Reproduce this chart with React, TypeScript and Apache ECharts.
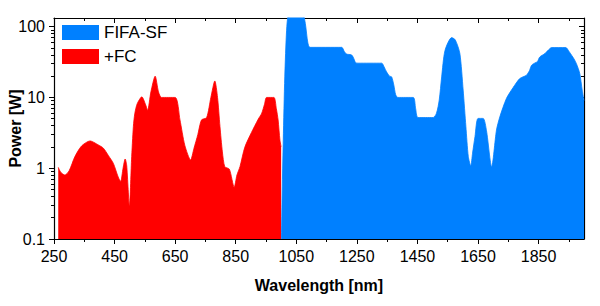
import React, { useEffect, useRef } from "react";
import * as echarts from "echarts";

// Data
const fcWavelength = [264, 272, 286, 300, 319, 341, 369, 395, 413, 430, 446, 462, 470, 478, 485, 490, 499, 506, 512, 517, 525, 540, 552, 559, 570, 584, 595, 605, 650, 666, 682, 701, 712, 725, 737, 754, 768, 781, 790, 798, 806, 814, 829, 845, 854, 864, 880, 902, 924, 936, 945, 952, 976, 984, 990, 996, 1000];
const fcPower = [1.03, 0.88, 0.8, 0.92, 1.46, 2.06, 2.43, 2.15, 1.92, 1.5, 1.17, 0.75, 0.65, 1.0, 1.35, 1.1, 0.29, 1.31, 3.86, 6, 8.2, 10.2, 8, 6.6, 12, 20, 12, 10, 10, 4.8, 2.1, 1.31, 1.9, 3, 4.8, 5.2, 10, 17.1, 10, 3.9, 1.7, 1.05, 0.97, 0.54, 0.8, 1.05, 1.98, 3.2, 4.9, 6, 8, 10, 10, 7, 4.8, 2.5, 2];

const sfWavelength = [1001, 1004, 1007, 1012, 1018, 1024, 1050, 1072, 1080, 1088, 1095, 1200, 1208, 1216, 1232, 1238, 1246, 1254, 1332, 1340, 1348, 1358, 1365, 1372, 1378, 1385, 1436, 1444, 1452, 1502, 1513, 1522, 1530, 1541, 1563, 1575, 1590, 1601, 1610, 1618, 1626, 1632, 1640, 1650, 1667, 1678, 1695, 1711, 1722, 1744, 1766, 1788, 1810, 1820, 1827, 1838, 1846, 1854, 1871, 1883, 1893, 1940, 1950, 1959, 1967, 1975, 1986, 1994, 2000];
const sfPower = [0.1, 0.6, 2.5, 19.5, 89, 150, 260, 160, 110, 60, 51, 51, 45, 41, 40, 37, 31, 30.5, 30.5, 27, 23, 20, 19.5, 15, 11, 10, 10, 7, 5.2, 5.2, 6, 9.2, 19.5, 46, 70, 65, 42, 12.7, 3.9, 1.46, 1.08, 1.63, 2.79, 5.06, 5.06, 3.4, 1.05, 3.46, 5.3, 9.7, 13.8, 18.5, 20.6, 24, 28.5, 30.7, 32, 37.3, 41.7, 47, 50.6, 50.6, 45, 39.5, 35, 30, 21.8, 12.7, 9];

const xMajorTicks = [250, 450, 650, 850, 1050, 1250, 1450, 1650, 1850];
const xMinorTicks = [350, 550, 750, 950, 1150, 1350, 1550, 1750, 1950];
const yMajorTicks = [0.1, 1, 10, 100];
const yMinorTicks = [0.2, 0.3, 0.4, 0.5, 0.6, 0.7, 0.8, 0.9, 2, 3, 4, 5, 6, 7, 8, 9, 20, 30, 40, 50, 60, 70, 80, 90];

const X_MIN = 250;
const X_MAX = 2000;
const Y_MIN = 0.1;
const Y_MAX = 132.5;

const FONT = "'Liberation Sans', Arial, sans-serif";

export default function App() {
  const ref = useRef<HTMLDivElement>(null);

  useEffect(() => {
    if (!ref.current) return;
    const chart = echarts.init(ref.current, undefined, { renderer: "svg" });

    const lg = (v: number) => Math.log10(v);
    const axisLine = { show: true, onZero: false, lineStyle: { color: "#000", width: 1.2 } };
    const noLine = { show: false, onZero: false };
    const baseX = { type: "value", min: X_MIN, max: X_MAX, splitLine: { show: false } };
    const baseY = { type: "value", min: lg(Y_MIN), max: lg(Y_MAX), splitLine: { show: false } };
    const tickStyle = { color: "#000", width: 1 };

    const option: any = {
      animation: false,
      grid: { left: 54, right: 16, top: 18, bottom: 67, containLabel: false, outerBoundsMode: "none" },
      legend: {
        orient: "vertical",
        left: 62,
        top: 24,
        padding: 0,
        itemWidth: 37,
        itemHeight: 15,
        itemGap: 7,
        icon: "rect",
        data: ["FIFA-SF", "+FC"],
        textStyle: { fontFamily: FONT, fontSize: 17, color: "#000", lineHeight: 15 },
      },
      xAxis: [
        {
          ...baseX,
          position: "bottom",
          name: "Wavelength [nm]",
          nameLocation: "middle",
          nameGap: 38,
          nameMoveOverlap: false,
          nameTextStyle: { fontFamily: FONT, fontSize: 16, fontWeight: "bold", color: "#000" },
          axisLine,
          axisTick: { show: true, inside: false, length: 5, customValues: xMajorTicks, lineStyle: tickStyle },
          axisLabel: {
            show: true,
            margin: 9,
            customValues: xMajorTicks,
            fontFamily: FONT,
            fontSize: 16,
            color: "#000",
            formatter: (v: number) => String(Math.round(v)),
          },
        },
        {
          ...baseX,
          position: "bottom",
          axisLine: noLine,
          axisTick: { show: true, inside: false, length: 3, customValues: xMinorTicks, lineStyle: tickStyle },
          axisLabel: { show: false },
        },
        {
          ...baseX,
          position: "top",
          axisLine,
          axisTick: { show: true, inside: true, length: 5, customValues: xMajorTicks, lineStyle: tickStyle },
          axisLabel: { show: false },
        },
        {
          ...baseX,
          position: "top",
          axisLine: noLine,
          axisTick: { show: true, inside: true, length: 3, customValues: xMinorTicks, lineStyle: tickStyle },
          axisLabel: { show: false },
        },
      ],
      yAxis: [
        {
          type: "log",
          logBase: 10,
          min: Y_MIN,
          max: Y_MAX,
          show: false,
          axisLine: { show: false, onZero: false },
          splitLine: { show: false },
        },
        {
          ...baseY,
          position: "left",
          name: "Power [W]",
          nameLocation: "middle",
          nameGap: 31,
          nameMoveOverlap: false,
          nameTextStyle: { fontFamily: FONT, fontSize: 16, fontWeight: "bold", color: "#000" },
          axisLine,
          axisTick: { show: true, inside: false, length: 5, customValues: yMajorTicks.map(lg), lineStyle: tickStyle },
          axisLabel: {
            show: true,
            margin: 9,
            customValues: yMajorTicks.map(lg),
            fontFamily: FONT,
            fontSize: 16,
            color: "#000",
            formatter: (v: number) => {
              const p = Math.round(v);
              const found = yMajorTicks.find((t) => Math.round(lg(t)) === p);
              return found !== undefined ? String(found) : "";
            },
          },
        },
        {
          ...baseY,
          position: "left",
          axisLine: noLine,
          axisTick: { show: true, inside: false, length: 3, customValues: yMinorTicks.map(lg), lineStyle: tickStyle },
          axisLabel: { show: false },
        },
        {
          ...baseY,
          position: "right",
          axisLine,
          axisTick: { show: true, inside: true, length: 5, customValues: yMajorTicks.map(lg), lineStyle: tickStyle },
          axisLabel: { show: false },
        },
        {
          ...baseY,
          position: "right",
          axisLine: noLine,
          axisTick: { show: true, inside: true, length: 3, customValues: yMinorTicks.map(lg), lineStyle: tickStyle },
          axisLabel: { show: false },
        },
      ],
      series: [
        {
          name: "FIFA-SF",
          type: "line",
          xAxisIndex: 0,
          yAxisIndex: 0,
          data: sfWavelength.map((w, i) => [w, sfPower[i]]),
          color: "#0080ff",
          smooth: 0.25,
          showSymbol: false,
          symbol: "none",
          clip: true,
          lineStyle: { width: 0.8, color: "#0080ff" },
          areaStyle: { color: "#0080ff", opacity: 1, origin: "start" },
          z: 2,
        },
        {
          name: "+FC",
          type: "line",
          xAxisIndex: 0,
          yAxisIndex: 0,
          data: fcWavelength.map((w, i) => [w, fcPower[i]]),
          color: "#ff0000",
          smooth: 0.25,
          showSymbol: false,
          symbol: "none",
          clip: true,
          lineStyle: { width: 0.8, color: "#ff0000" },
          areaStyle: { color: "#ff0000", opacity: 1, origin: "start" },
          z: 2,
        },
      ],
    };

    chart.setOption(option);
    return () => chart.dispose();
  }, []);

  return <div ref={ref} style={{ width: 600, height: 306, position: "absolute", left: 0, top: 0 }} />;
}
